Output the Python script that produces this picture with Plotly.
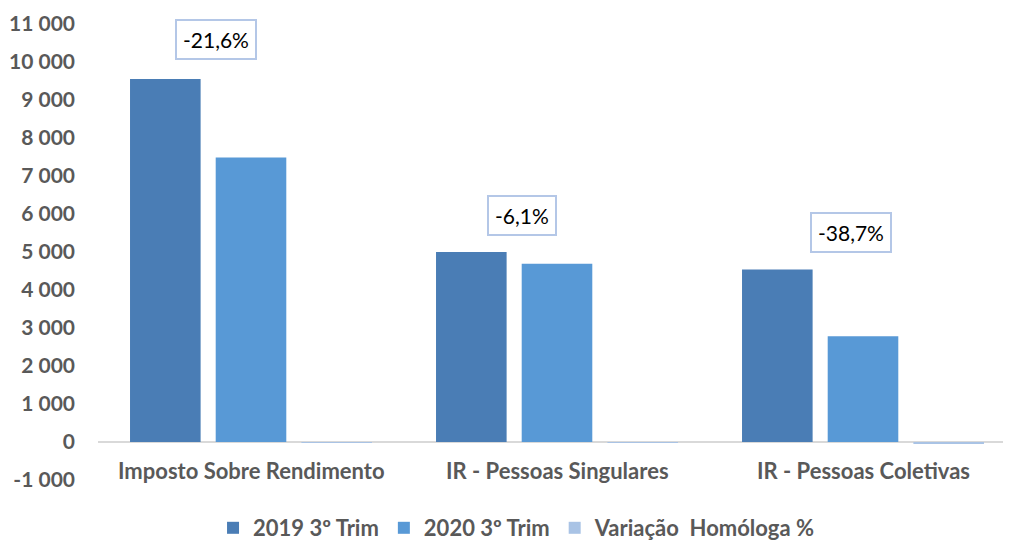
import plotly.graph_objects as go

categories = ["Imposto Sobre Rendimento", "IR - Pessoas Singulares", "IR - Pessoas Coletivas"]
trim_2019 = [9550, 5000, 4540]
trim_2020 = [7490, 4690, 2780]
variacao = [-21.6, -6.1, -38.7]
variacao_labels = ["-21,6%", "-6,1%", "-38,7%"]
tick_vals = list(range(-1000, 11001, 1000))
tick_text = [f"{v:,}".replace(",", " ") for v in tick_vals]

# annotation placement (layout only)
ann_dx = [-0.115, -0.115, -0.04]
ann_y = [10600, 5960, 5520]

FONT = "Lato, 'Open Sans', sans-serif"
GREY = "#595959"

fig = go.Figure()
fig.add_trace(go.Bar(name="2019 3º Trim", x=categories, y=trim_2019,
                     marker=dict(color="#4A7DB5", line=dict(width=0))))
fig.add_trace(go.Bar(name="2020 3º Trim", x=categories, y=trim_2020,
                     marker=dict(color="#5899D6", line=dict(width=0))))
fig.add_trace(go.Bar(name="Variação&nbsp; Homóloga %", x=categories, y=variacao,
                     marker=dict(color="#A9C3E5", line=dict(width=0))))

for i, cat in enumerate(categories):
    fig.add_annotation(x=i + ann_dx[i], y=ann_y[i], xref="x", yref="y",
                       text=variacao_labels[i], showarrow=False,
                       font=dict(family=FONT, size=21, color="#000000"),
                       bgcolor="white", bordercolor="#B4C7E7", borderwidth=2,
                       borderpad=6)
    fig.add_annotation(x=i, y=0, xref="x", yref="y", text=f"<b>{cat}</b>",
                       showarrow=False, yanchor="top", yshift=-13,
                       font=dict(family=FONT, size=22, color=GREY))

fig.update_layout(
    width=1011, height=543,
    margin=dict(l=90, r=3, t=16, b=71, autoexpand=False),
    paper_bgcolor="white", plot_bgcolor="white",
    barmode="group", bargap=0.16, bargroupgap=0.176,
    font=dict(family=FONT, color=GREY),
    showlegend=True,
    legend=dict(orientation="h", xref="container", x=0.503, xanchor="center",
                yref="container", y=23 / 543, yanchor="middle",
                font=dict(family=FONT, size=22, color=GREY, weight="bold"),
                itemwidth=30, traceorder="normal"),
)
fig.update_xaxes(range=[-0.5, 2.5], showticklabels=False, showgrid=False,
                 zeroline=False, showline=False, ticks="", automargin=False)
fig.update_yaxes(range=[-1000, 11000], tickvals=tick_vals, ticktext=tick_text,
                 showgrid=False, zeroline=True, zerolinecolor="#D9D9D9",
                 zerolinewidth=2, showline=False, ticks="", automargin=False,
                 ticklabelstandoff=22,
                 tickfont=dict(family=FONT, size=21, color=GREY, weight="bold"))

fig.write_html("out.html")
